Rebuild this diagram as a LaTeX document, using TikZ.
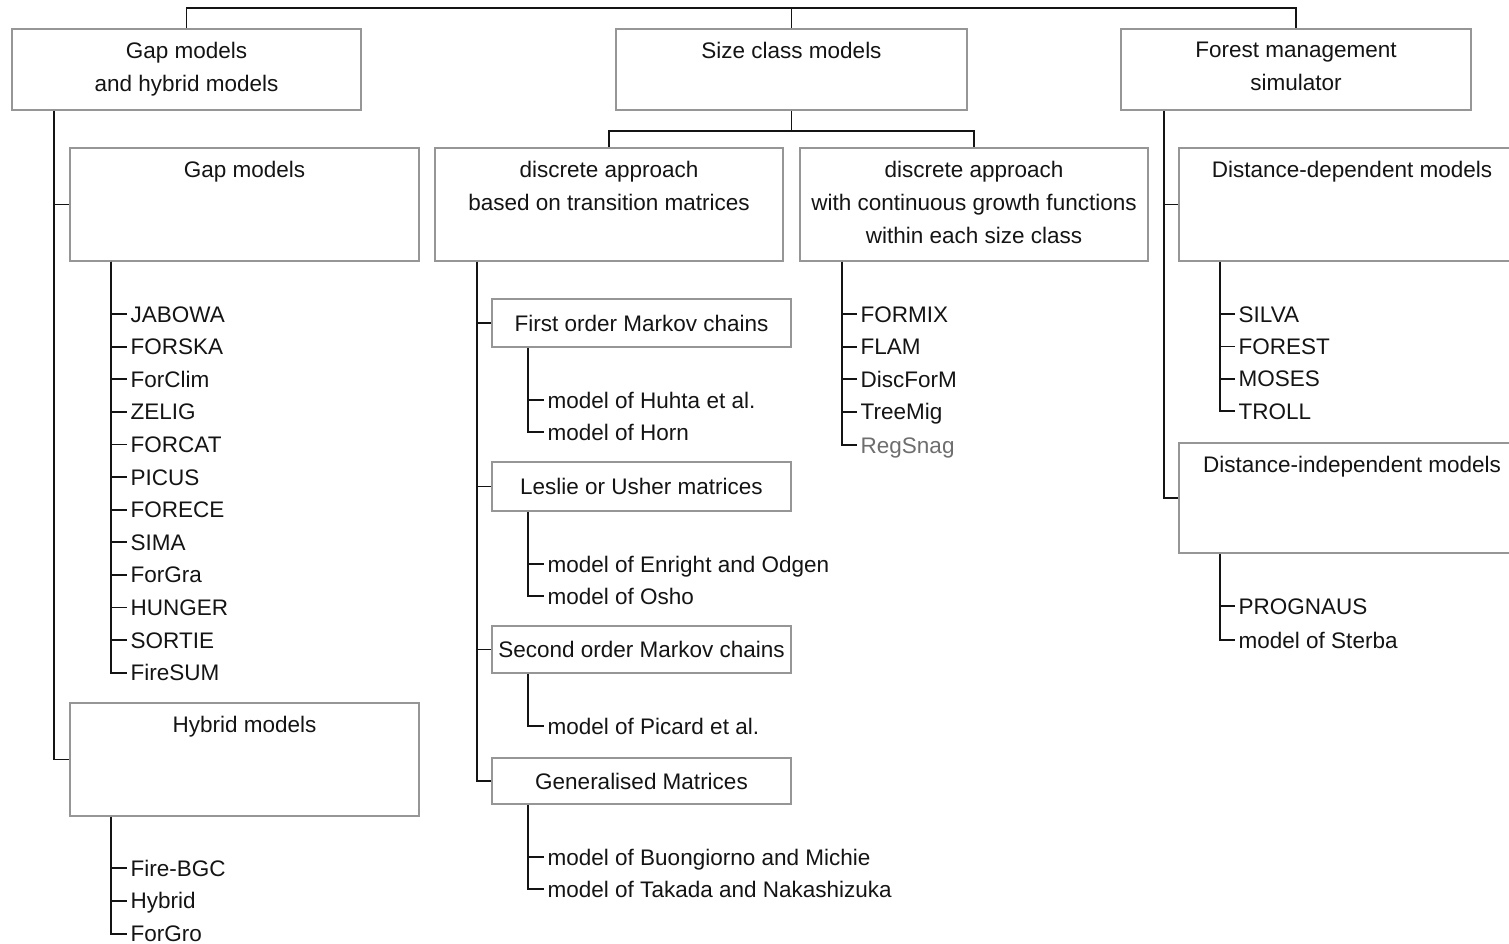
\documentclass[tikz,border=0pt]{standalone}
\usepackage{fontspec}
\setmainfont{Liberation Sans}
\definecolor{boxgray}{RGB}{150,150,150}
\definecolor{txtgray}{RGB}{110,110,110}
\definecolor{ink}{RGB}{20,20,20}
\begin{document}
\begin{tikzpicture}[x=1pt,y=-1pt,
  every node/.style={font=\fontsize{22.5}{33}\selectfont, text=ink},
  box/.style n args={2}{draw=boxgray, line width=1.6pt, rectangle, inner sep=0pt,
    minimum width=#1pt, minimum height=#2pt, text height=16pt, text depth=0pt},
  boxlabel/.style={anchor=north, inner sep=0pt, align=center},
  item/.style={anchor=west, inner xsep=3.5pt, inner ysep=0pt, text height=16pt, text depth=0pt},
  conn/.style={draw=ink, line width=1.8pt}]
\useasboundingbox (0,0) rectangle (1509,944);

% top level boxes
\node[box={349}{81}] (A) at (186.5,69.5) {};
\node[box={351}{81}] (B) at (791.5,69.5) {};
\node[box={350}{81}] (C) at (1296,69.5) {};
\node[boxlabel] (tA) at ([yshift=-14pt]A.north) {Gap models\\and hybrid models};
\node[boxlabel] (tB) at ([yshift=-14pt]B.north) {Size class models};
\node[boxlabel] (tC) at ([yshift=-14pt]C.north) {Forest management\\simulator};

% second level boxes
\node[box={349}{113}] (G) at (244.5,204.5) {};
\node[box={349}{113}] (H) at (244.5,759.5) {};
\node[box={348}{113}] (D) at (609,204.5) {};
\node[box={348}{113}] (E) at (974,204.5) {};
\node[box={346}{113}] (DD) at (1352,204.5) {};
\node[box={346}{110}] (DI) at (1352,498) {};
\node[boxlabel] (tG) at ([yshift=-14pt]G.north) {Gap models};
\node[boxlabel] (tH) at ([yshift=-14pt]H.north) {Hybrid models};
\node[boxlabel] (tD) at ([yshift=-14pt]D.north) {discrete approach\\based on transition matrices};
\node[boxlabel] (tE) at ([yshift=-14pt]E.north) {discrete approach\\with continuous growth functions\\within each size class};
\node[boxlabel] (tDD) at ([yshift=-14pt]DD.north) {Distance-dependent models};
\node[boxlabel] (tDI) at ([yshift=-14pt]DI.north) {Distance-independent models};

% sub boxes of D
\node[box={299}{48}] (S1) at (641.5,323) {First order Markov chains};
\node[box={299}{49}] (S2) at (641.5,486.5) {Leslie or Usher matrices};
\node[box={299}{47}] (S3) at (641.5,649.5) {Second order Markov chains};
\node[box={299}{46}] (S4) at (641.5,781) {Generalised Matrices};

% top connectors
\draw[conn] (A.north) -- ++(0,-20) -| (C.north);
\draw[conn] (B.north) -- ++(0,-20);
\draw[conn] (B.south) -- ++(0,20) -| (D.north);
\draw[conn] (B.south) ++(0,20) -| (E.north);

% left column
\coordinate (aS) at ([xshift=43pt]A.south west);
\draw[conn] (aS) |- (G.west);
\draw[conn] (aS) |- (H.west);
\coordinate (gS) at ([xshift=42pt]G.south west);
\foreach \n/\t [count=\k from 0] in {g1/JABOWA,g2/FORSKA,g3/ForClim,g4/ZELIG,g5/FORCAT,g6/PICUS,g7/FORECE,g8/SIMA,g9/ForGra,g10/HUNGER,g11/SORTIE,g12/FireSUM}{
  \node[item] (\n) at (127,314+32.6*\k) {\t};
  \draw[conn] (gS) |- (\n.west);
}
\coordinate (hS) at ([xshift=42pt]H.south west);
\foreach \n/\t [count=\k from 0] in {h1/Fire-BGC,h2/Hybrid,h3/ForGro}{
  \node[item] (\n) at (127,868+32.8*\k) {\t};
  \draw[conn] (hS) |- (\n.west);
}

% middle column
\coordinate (dS) at ([xshift=43pt]D.south west);
\draw[conn] (dS) |- (S1.west);
\draw[conn] (dS) |- (S2.west);
\draw[conn] (dS) |- (S3.west);
\draw[conn] (dS) |- (S4.west);

\coordinate (s1S) at ([xshift=37pt]S1.south west);
\node[item] (m11) at (544,400) {model of Huhta et al.};
\node[item] (m12) at (544,432) {model of Horn};
\draw[conn] (s1S) |- (m11.west);
\draw[conn] (s1S) |- (m12.west);
\coordinate (s2S) at ([xshift=37pt]S2.south west);
\node[item] (m21) at (544,564) {model of Enright and Odgen};
\node[item] (m22) at (544,596) {model of Osho};
\draw[conn] (s2S) |- (m21.west);
\draw[conn] (s2S) |- (m22.west);
\coordinate (s3S) at ([xshift=37pt]S3.south west);
\node[item] (m31) at (544,726) {model of Picard et al.};
\draw[conn] (s3S) |- (m31.west);
\coordinate (s4S) at ([xshift=37pt]S4.south west);
\node[item] (m41) at (544,857) {model of Buongiorno and Michie};
\node[item] (m42) at (544,889) {model of Takada and Nakashizuka};
\draw[conn] (s4S) |- (m41.west);
\draw[conn] (s4S) |- (m42.west);

\coordinate (eS) at ([xshift=43pt]E.south west);
\foreach \n/\t [count=\k from 0] in {e1/FORMIX,e2/FLAM,e3/DiscForM,e4/TreeMig}{
  \node[item] (\n) at (857,314+32.6*\k) {\t};
  \draw[conn] (eS) |- (\n.west);
}
\node[item, text=txtgray] (e5) at (857,445) {RegSnag};
\draw[conn] (eS) |- (e5.west);

% right column
\coordinate (cS) at ([xshift=44pt]C.south west);
\draw[conn] (cS) |- (DD.west);
\draw[conn] (cS) |- (DI.west);
\coordinate (ddS) at ([xshift=42pt]DD.south west);
\foreach \n/\t [count=\k from 0] in {r1/SILVA,r2/FOREST,r3/MOSES,r4/TROLL}{
  \node[item] (\n) at (1235,314+32.4*\k) {\t};
  \draw[conn] (ddS) |- (\n.west);
}
\coordinate (diS) at ([xshift=42pt]DI.south west);
\node[item] (p1) at (1235,606) {PROGNAUS};
\node[item] (p2) at (1235,640) {model of Sterba};
\draw[conn] (diS) |- (p1.west);
\draw[conn] (diS) |- (p2.west);
\end{tikzpicture}
\end{document}
